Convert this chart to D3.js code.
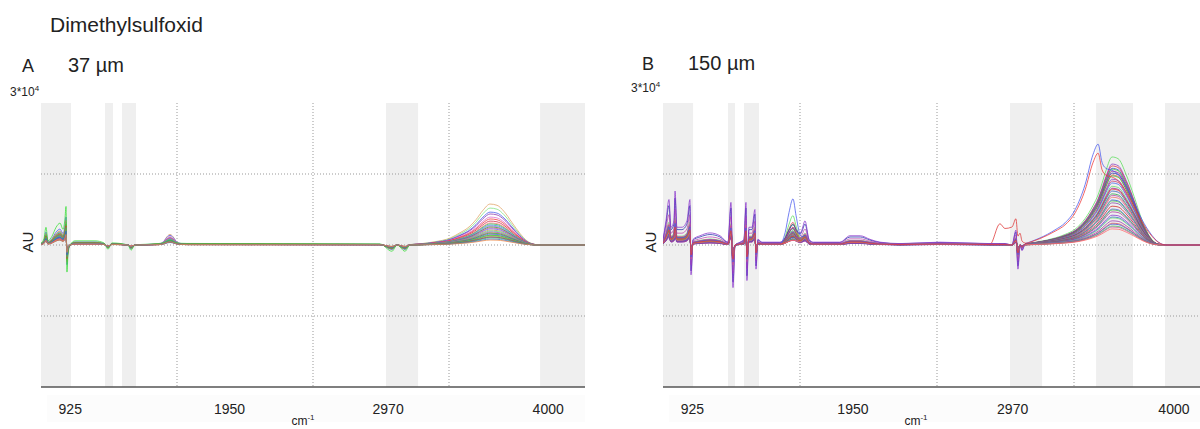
<!DOCTYPE html>
<html>
<head>
<meta charset="utf-8">
<title>Dimethylsulfoxid</title>
<style>
  body { margin: 0; background: #fff; }
  text { font-family: "Liberation Sans", Arial, sans-serif; fill: #222; }
</style>
</head>
<body>
<svg id="chart" width="1200" height="429"></svg>
<script src="https://d3js.org/d3.v7.min.js"></script>
<script>
// x axis: wavenumber, y axis: AU
const xDomain = [740, 4240]
const yDomain = [-30000, 30000]
const tickLabels = [925, 1950, 2970, 4000]
const gridWavenumbers = [1615, 2490, 3365]
const gridAU = [-15000, 0, 15000]

// masked (grey) regions
const bandsA = [[740, 933], [1152, 1203], [1261, 1351], [2960, 3166], [3951, 4240]]
const bandsB = [[740, 932], [1155, 1200], [1257, 1353], [2956, 3161], [3506, 3742], [3946, 4240]]

// ---- panel A, 37 µm ----
const wavenumbersA = [740, 759, 772, 785, 811, 837, 862, 882, 894, 901, 907, 914, 927, 959, 1087, 1145, 1171, 1197, 1300, 1319, 1345,
  1500, 1530, 1555, 1570, 1585, 1610, 1640, 1680, 2921, 2998, 3031, 3082, 3114, 3178, 3275, 3372, 3436, 3487, 3539,
  3584, 3629, 3674, 3719, 3770, 3822, 3867, 3912, 3951, 4240]
const baseA = [200, 600, 1700, 400, 850, 1700, 2100, 1500, 2500, 3700, -2600, -850, 0, 400, 400, 200, -400, 200, 0, -500, 0,
  150, 150, 150, 150, 150, 150, 150, 150, 100, -600, 0, -600, 0, 0, 0, 0, 0, 0, 0,
  0, 0, 0, 0, 0, 0, 0, 0, 0, 0]
const minorShapeA = [0, 0, 0, 0, 0, 0, 0, 0, 0, 0, 0, 0, 0, 0, 0, 0, 0, 0, 0, 0, 0,
  0, 0.3, 0.85, 1, 0.85, 0.3, 0.05, 0, 0, 0, 0, 0, 0, 0, 0, 0, 0, 0, 0,
  0, 0, 0, 0, 0, 0, 0, 0, 0, 0]
const mainShapeA = [0, 0, 0, 0, 0, 0, 0, 0, 0, 0, 0, 0, 0, 0, 0, 0, 0, 0, 0, 0, 0,
  0, 0, 0, 0, 0, 0, 0, 0, 0, 0, 0, 0, 0.01, 0.03, 0.08, 0.17, 0.3, 0.42, 0.62,
  0.85, 1, 0.97, 0.82, 0.55, 0.28, 0.1, 0.02, 0, 0]

const colorsA = ["#e0a060", "#7ee07e", "#4455ee", "#8833aa", "#dd66cc", "#ee3333", "#cc2244", "#ff7777", "#33bb55", "#3399cc",
  "#aa66ee", "#22aa22", "#dd4488", "#5566ee", "#cc8844", "#44dd88", "#9944bb", "#ee5555", "#33cc33", "#3355dd",
  "#bb5599", "#33dd33", "#66cc44", "#dd3333", "#884499", "#44bb66", "#3366cc", "#ee8844"]
const peakA = [8650, 7800, 6950, 6550, 5900, 5500, 5050, 4650, 4450, 4200, 4000, 3800, 3600, 3400, 3150, 2950, 2750, 2550,
  2500, 2300, 2100, 2050, 1900, 1700, 1650, 1500, 1250, 1050]
const minorA = [2100, 1500, 1800, 1300, 1600, 1100, 1400, 1000, 1200, 900, 1300, 800, 1000, 700, 900, 1100, 600, 800,
  700, 900, 500, 650, 600, 450, 700, 500, 400, 550]
const noiseA = [1.0, 0.8, 1.6, 0.6, 1.2, 0.9, 0.7, 1.1, 0.5, 1.3, 0.8, 1.0, 0.6, 0.9, 1.4, 0.7, 1.0, 0.5, 1.2, 0.8,
  0.6, 2.2, 0.9, 1.1, 0.7, 1.0, 0.8, 0.6]

// ---- panel B, 150 µm ----
const wavenumbersB = [740, 759, 778, 791, 810, 817, 829, 861, 893, 912, 919, 932, 976, 1040, 1104, 1155, 1174, 1187, 1200, 1232,
  1257, 1270, 1276, 1289, 1308, 1327, 1334, 1346, 1372, 1423, 1487, 1520, 1545, 1570, 1590, 1615, 1628, 1647, 1673, 1700,
  1870, 1934, 2000, 2062, 2126, 2254, 2509, 2828, 2892, 2924, 2969, 2994, 3007, 3020, 3033, 3052, 3084, 3148, 3244, 3308,
  3372, 3436, 3487, 3519, 3544, 3570, 3608, 3647, 3698, 3749, 3800, 3851, 3903, 3954, 4240]
const baseB = [400, 1700, 3200, 1250, 1700, 3800, 1250, 1250, 1700, 3200, -2100, 400, 650, 850, 650, 200, 3000, -3000, 0, 200,
  400, 3000, -2500, 1250, 1250, 2500, -1700, 400, 200, 200, 200, 200, 200, 200, 400, 650, 1050, 1700, 400, 200,
  200, 650, 650, 400, 200, 100, 200, 100, 100, 100, 0, 1050, -1700, 0, -400, 0, 0, 0, 0, 0,
  0, 0, 0, 0, 0, 0, 0, 0, 0, 0, 0, 0, 0, 0, 0]
const minorShapeB = [0, 0, 0, 0, 0, 0, 0, 0, 0, 0, 0, 0, 0, 0, 0, 0, 0, 0, 0, 0,
  0, 0, 0, 0, 0, 0, 0, 0, 0, 0, 0, 0.25, 0.7, 1, 0.6, 0.15, 0.05, 0, 0, 0,
  0, 0, 0, 0, 0, 0, 0, 0, 0, 0, 0, 0, 0, 0, 0, 0, 0, 0, 0, 0,
  0, 0, 0, 0, 0, 0, 0, 0, 0, 0, 0, 0, 0, 0, 0]
const mainShapeB = [0, 0, 0, 0, 0, 0, 0, 0, 0, 0, 0, 0, 0, 0, 0, 0, 0, 0, 0, 0,
  0, 0, 0, 0, 0, 0, 0, 0, 0, 0, 0, 0, 0, 0, 0, 0, 0, 0, 0, 0,
  0, 0, 0, 0, 0, 0, 0, 0, 0, 0, 0, 0, 0, 0, 0, 0.01, 0.02, 0.04, 0.08, 0.12,
  0.18, 0.3, 0.45, 0.57, 0.7, 0.85, 1, 0.98, 0.8, 0.55, 0.28, 0.09, 0.01, 0, 0]
const earlyShapeB = [0, 0, 0, 0, 0, 0, 0, 0, 0, 0, 0, 0, 0, 0, 0, 0, 0, 0, 0, 0,
  0, 0, 0, 0, 0, 0, 0, 0, 0, 0, 0, 0, 0, 0, 0, 0, 0, 0, 0, 0,
  0, 0, 0, 0, 0, 0, 0, 0, 0, 0, 0, 0, 0, 0, 0, 0.01, 0.03, 0.07, 0.15, 0.22,
  0.35, 0.6, 0.9, 1, 0.82, 0.76, 0.74, 0.7, 0.58, 0.42, 0.25, 0.12, 0.03, 0, 0]
const bumpB = [0, 0, 0, 0, 0, 0, 0, 0, 0, 0, 0, 0, 0, 0, 0, 0, 0, 0, 0, 0,
  0, 0, 0, 0, 0, 0, 0, 0, 0, 0, 0, 0, 0, 0, 0, 0, 0, 0, 0, 0,
  0, 0, 0, 0, 0, 0, 0, 0, 4400, 3400, 3800, 4600, 3400, 2500, 1200, 300, 0, 0, 0, 0,
  0, 0, 0, 0, 0, 0, 0, 0, 0, 0, 0, 0, 0, 0, 0]

const mainColorsB = ["#55dd55", "#8833bb", "#dd2244", "#3344cc", "#44cc44", "#aa2288", "#2233aa", "#ee5555", "#33bb33", "#7744cc",
  "#cc3366", "#4466ee", "#66dd66", "#992299", "#dd3333", "#3355bb", "#22aa44", "#bb44aa", "#ee6666", "#2244dd",
  "#55cc55", "#8844aa", "#cc2222", "#5566dd", "#44bb44", "#aa3399", "#8833cc", "#3366cc", "#77dd77", "#9933aa",
  "#dd5555", "#4455cc", "#33cc55", "#cc5599", "#ff6666"]
const mainPeakB = [18600, 17100, 16700, 16200, 16000, 15600, 15200, 14800, 14600, 13900, 13500, 13100, 12400, 12000, 11800,
  11400, 10800, 10500, 10100, 9500, 9300, 8900, 8200, 7600, 7400, 7000, 6300, 5900, 5700, 5100, 4600, 4400, 4000, 3800, 3400]
const mainMinorB = [6000, 3400, 4500, 2600, 4200, 2200, 3800, 1800, 3200, 2900, 2400, 1500, 2700, 2000, 3600, 1700, 2300,
  1300, 2100, 1900, 1200, 2500, 1600, 1100, 1400, 1000, 3000, 900, 1800, 1200, 800, 1500, 1000, 700, 900]
const mainNoiseB = [1.0, 0.8, 1.3, 0.6, 1.1, 0.9, 2.6, 0.7, 1.2, 0.5, 1.0, 0.8, 1.5, 0.6, 0.9, 1.1, 0.7, 2.0, 0.8, 1.0,
  0.6, 1.3, 0.9, 0.7, 1.2, 0.5, 3.0, 0.8, 1.0, 0.6, 1.1, 0.7, 0.9, 1.4, 0.8]
const bumpIndexB = 14

const earlyColorsB = ["#4455ee", "#ee3333"]
const earlyPeakB = [21300, 19400]
const earlyMinorB = [9500, 1700]
const earlyNoiseB = [1.2, 1.0]

// sum of profile * weight at every grid point
function combine(grid, parts) {
  return grid.map((w, j) => ({ w: w, v: d3.sum(parts, p => p[0][j] * p[1]) }))
}

let seriesA = colorsA.map((c, i) => ({
  color: c,
  points: combine(wavenumbersA, [[baseA, noiseA[i]], [minorShapeA, minorA[i]], [mainShapeA, peakA[i]]])
}))

let seriesB = mainColorsB.map((c, i) => ({
  color: c,
  points: combine(wavenumbersB, [[baseB, mainNoiseB[i]], [minorShapeB, mainMinorB[i]], [mainShapeB, mainPeakB[i]],
    [bumpB, i === bumpIndexB ? 1 : 0]])
})).concat(earlyColorsB.map((c, i) => ({
  color: c,
  points: combine(wavenumbersB, [[baseB, earlyNoiseB[i]], [minorShapeB, earlyMinorB[i]], [earlyShapeB, earlyPeakB[i]]])
})))

const svg = d3.select("#chart")
const plotTop = 103, plotBottom = 387

svg.append("text").attr("x", 50).attr("y", 32).attr("font-size", 21).text("Dimethylsulfoxid")

const panels = [
  { id: "A", left: 41, right: 585, bands: bandsA, series: seriesA, letterX: 22, letterY: 72, labelX: 68, label: "37 µm",
    expX: 10, expY: 96, auX: 28, unitX: 303 },
  { id: "B", left: 663, right: 1211, bands: bandsB, series: seriesB, letterX: 642, letterY: 70, labelX: 688, label: "150 µm",
    expX: 631, expY: 92, auX: 651, unitX: 916 }
]

panels.forEach(p => {
  let x = d3.scaleLinear().domain(xDomain).range([p.left, p.right])
  let y = d3.scaleLinear().domain(yDomain).range([plotBottom, plotTop])
  let g = svg.append("g")

  g.append("clipPath").attr("id", "clip" + p.id)
    .append("rect").attr("x", p.left).attr("y", plotTop).attr("width", p.right - p.left).attr("height", plotBottom - plotTop)

  // faint box behind tick labels
  g.append("rect").attr("x", p.left + 6).attr("y", 395).attr("width", p.right - p.left - 6).attr("height", 27)
    .attr("fill", "#fcfcfc")

  g.selectAll("rect.band").data(p.bands).join("rect")
    .attr("class", "band")
    .attr("x", d => x(d[0])).attr("width", d => x(d[1]) - x(d[0]))
    .attr("y", plotTop).attr("height", plotBottom - plotTop)
    .attr("fill", "#efefef")

  g.selectAll("line.vgrid").data(gridWavenumbers).join("line")
    .attr("class", "vgrid")
    .attr("x1", d => x(d)).attr("x2", d => x(d))
    .attr("y1", plotTop).attr("y2", plotBottom)
    .attr("stroke", "#999").attr("stroke-width", 1).attr("stroke-dasharray", "1,2")

  g.selectAll("line.hgrid").data(gridAU).join("line")
    .attr("class", "hgrid")
    .attr("x1", p.left).attr("x2", p.right)
    .attr("y1", d => y(d)).attr("y2", d => y(d))
    .attr("stroke", "#999").attr("stroke-width", 1).attr("stroke-dasharray", "1,2")

  let line = d3.line().x(d => x(d.w)).y(d => y(d.v)).curve(d3.curveMonotoneX)

  g.append("g").attr("clip-path", "url(#clip" + p.id + ")")
    .selectAll("path").data(p.series).join("path")
    .attr("d", d => line(d.points))
    .attr("fill", "none")
    .attr("stroke", d => d.color)
    .attr("stroke-width", 1)
    .attr("stroke-opacity", 0.75)

  let axis = g.append("g").attr("transform", "translate(0," + plotBottom + ")")
    .call(d3.axisBottom(x).tickValues(tickLabels).tickSize(0).tickPadding(17).tickFormat(d3.format("d")))
  axis.select(".domain").remove()
  axis.selectAll("text").attr("font-size", 14).attr("font-family", "Liberation Sans, Arial, sans-serif").attr("fill", "#222")

  g.append("line")
    .attr("x1", x(xDomain[0])).attr("x2", x(xDomain[1]))
    .attr("y1", plotBottom).attr("y2", plotBottom)
    .attr("stroke", "#555").attr("stroke-width", 1.5)

  g.append("text").attr("x", p.letterX).attr("y", p.letterY).attr("font-size", 18).text(p.id)
  g.append("text").attr("x", p.labelX).attr("y", p.letterY).attr("font-size", 20).text(p.label)

  let exp = g.append("text").attr("x", p.expX).attr("y", p.expY).attr("font-size", 12)
  exp.append("tspan").text("3*10")
  exp.append("tspan").attr("font-size", 8).attr("dy", -5).text("4")

  g.append("text")
    .attr("transform", "translate(" + (p.auX + 5) + ",242) rotate(-90)")
    .attr("text-anchor", "middle").attr("font-size", 15).text("AU")

  let unit = g.append("text").attr("x", p.unitX).attr("y", 425).attr("text-anchor", "middle").attr("font-size", 12)
  unit.append("tspan").text("cm")
  unit.append("tspan").attr("font-size", 8).attr("dy", -5).text("-1")
})
</script>
</body>
</html>
